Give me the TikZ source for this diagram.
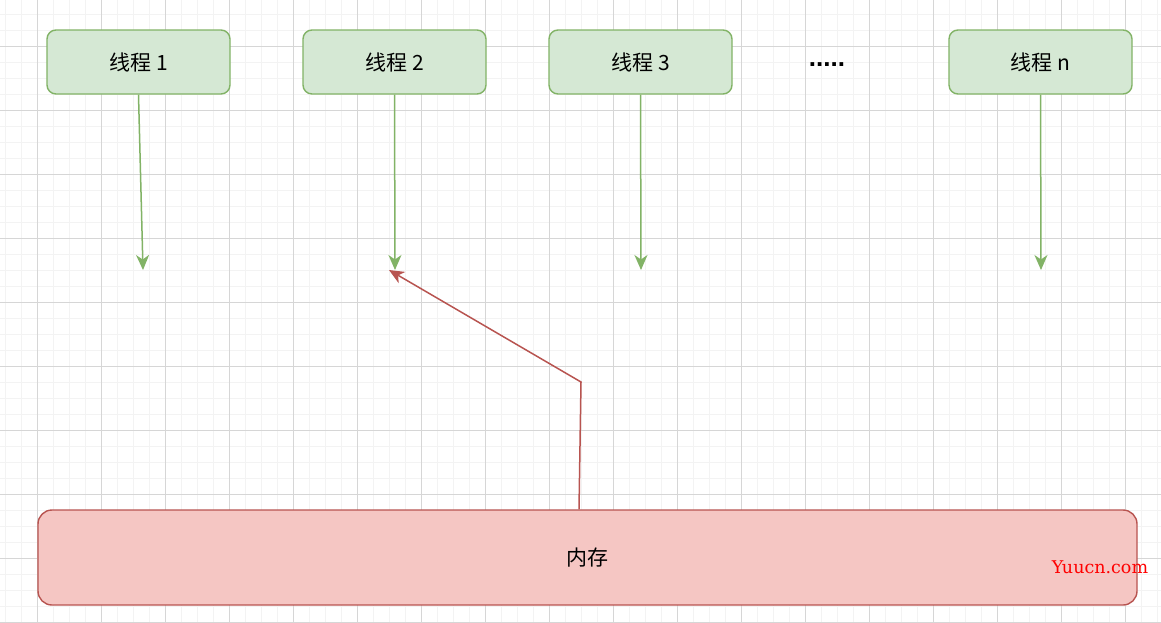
\documentclass[tikz,border=0pt]{standalone}
\usepackage{fontspec}
\setmainfont{Noto Sans CJK SC}
\newfontfamily\wmfont{DejaVu Serif}
\newfontfamily\dotfont{Liberation Sans}
\usetikzlibrary{arrows.meta}
\definecolor{thrfill}{HTML}{D5E8D4}
\definecolor{thrline}{HTML}{82B366}
\definecolor{memfill}{HTML}{F5C6C3}
\definecolor{memline}{HTML}{B85450}
\definecolor{gridminor}{HTML}{F3F3F3}
\definecolor{gridmajor}{HTML}{D6D6D6}
\tikzset{
  thread/.style  = {draw=thrline,fill=thrfill,line width=1.4pt,rounded corners=9pt,
                    minimum width=183pt,minimum height=64pt,font=\fontsize{21}{24}\selectfont},
  memory/.style  = {draw=memline,fill=memfill,line width=1.4pt,rounded corners=14pt,
                    minimum width=1099pt,minimum height=95pt,font=\fontsize{21}{24}\selectfont},
  greenarr/.style = {-{Stealth[length=15pt,width=13pt,inset=4.5pt]},thrline,line width=1.5pt},
  redarr/.style   = {-{Stealth[length=15pt,width=13pt,inset=4.5pt]},memline,line width=1.5pt}
}

\begin{document}
\begin{tikzpicture}[x=1pt,y=-1pt]
  \useasboundingbox (0,0) rectangle (1161,622);
  \fill[white] (0,0) rectangle (1161,622);
  % grid
  \foreach \gx in {5,21,...,1161} \draw[gridminor,line width=1pt] (\gx,0) -- (\gx,622);
  \foreach \gy in {14,30,...,622} \draw[gridminor,line width=1pt] (0,\gy) -- (1161,\gy);
  \foreach \gx in {37,101,...,1161} \draw[gridmajor,line width=1pt] (\gx,0) -- (\gx,622);
  \foreach \gy in {46,110,...,622} \draw[gridmajor,line width=1pt] (0,\gy) -- (1161,\gy);

  \node[thread] (t1) at (138.5,62) {线程 1};
  \node[thread] (t2) at (394.5,62) {线程 2};
  \node[thread] (t3) at (640.5,62) {线程 3};
  \node[thread] (tn) at (1040.5,62) {线程 n};
  \node[font=\dotfont\bfseries\fontsize{26}{28}\selectfont] (dots) at (827,65) {.....};
  \node[memory] (mem) at (587.5,557.5) {内存};

  \coordinate (e1) at (143,270);
  \coordinate (e2) at (395,270);
  \coordinate (e3) at (641,270);
  \coordinate (en) at (1041,270);
  \coordinate (bend) at (581,382);
  \coordinate (hit) at (389,270);

  \draw[greenarr] (t1.south) -- (e1);
  \draw[greenarr] (t2.south) -- (e2);
  \draw[greenarr] (t3.south) -- (e3);
  \draw[greenarr] (tn.south) -- (en);
  \draw[redarr] ([xshift=-8.5pt]mem.north) -- (bend) -- (hit);

  \node[text=red,font=\wmfont\fontsize{17.5}{20}\selectfont] (wm) at (1100,567) {Yuucn.com};
\end{tikzpicture}
\end{document}
